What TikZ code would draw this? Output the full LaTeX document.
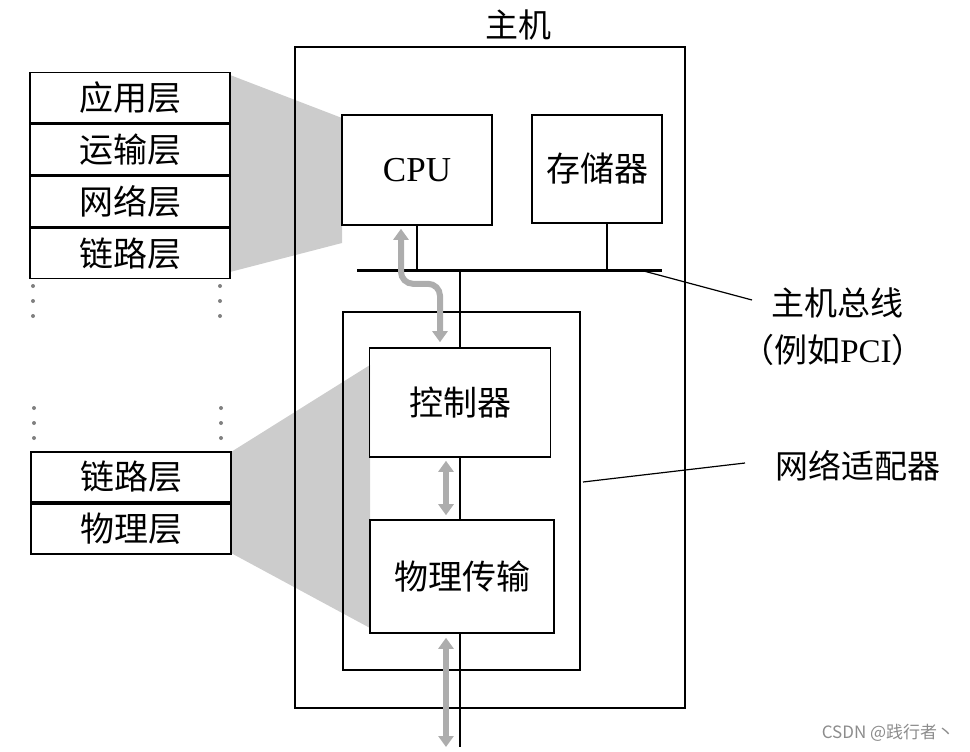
\documentclass[tikz,border=0pt]{standalone}
\usepackage{fontspec}
\setmainfont{Liberation Serif}
\newfontfamily\cjk{Noto Sans CJK SC}
\usetikzlibrary{arrows.meta,positioning}

\tikzset{
  box/.style={draw, line width=1.6pt, inner sep=0pt, font=\cjk\fontsize{34}{38}\selectfont},
  layer/.style={box, minimum width=200pt, minimum height=50.3pt},
  wire/.style={line width=2.2pt},
  dataflow/.style={line width=6pt, draw=black!32,
    {Triangle[width=15pt,length=11pt]}-{Triangle[width=15pt,length=11pt]}},
  shade/.style={fill=black!20},
  lbl/.style={inner sep=0pt, font=\cjk\fontsize{33}{38}\selectfont},
  dots/.style={line width=4pt, black!50, line cap=round, dash pattern=on 0pt off 15pt},
}

\begin{document}
\begin{tikzpicture}[x=1pt, y=-1pt]
  \useasboundingbox (0,0) rectangle (970,752);
  % shaded zoom wedges
  \fill[shade] (230,75) -- (342,118) -- (342,243) -- (230,272) -- cycle;
  \fill[shade] (231,452) -- (370,365) -- (370,628) -- (231,553) -- cycle;

  % protocol stack
  \node[layer] (app) at (130,97.5) {应用层};
  \node[layer, below=0pt of app] (trans) {运输层};
  \node[layer, below=0pt of trans] (net) {网络层};
  \node[layer, below=0pt of net] (link) {链路层};
  \node[layer] (link2) at (131,477) {链路层};
  \node[layer, below=0pt of link2] (phy) {物理层};
  \draw[dots] (33,286) -- (33,318);
  \draw[dots] (220,286) -- (220,318);
  \draw[dots] (34,408) -- (34,440);
  \draw[dots] (221,408) -- (221,440);

  % host
  \node[box, minimum width=390pt, minimum height=661pt] (host) at (490,377.5) {};
  \node[lbl] (hostlbl) at (518,25) {主机};
  \node[box, minimum width=150pt, minimum height=110pt, font=\fontsize{35}{40}\selectfont] (cpu) at (417,170) {CPU};
  \node[box, minimum width=130pt, minimum height=108pt] (mem) at (597,169) {存储器};

  % bus
  \coordinate (busL) at (357,270);
  \coordinate (busR) at (662,270);
  \draw[line width=3pt] (busL) -- (busR);
  \draw[wire] (cpu.south) -- (cpu.south |- busL);
  \draw[wire] ([xshift=10pt]mem.south) -- ([xshift=10pt]mem.south |- busL);

  % adapter
  \node[box, minimum width=237pt, minimum height=358pt] (adapter) at (461.5,491) {};
  \node[box, minimum width=181pt, minimum height=109pt] (ctrl) at (460,402.5) {控制器};
  \node[box, minimum width=184pt, minimum height=113pt] (phys) at (462,576.5) {物理传输};
  \coordinate (wireend) at (460,747);
  \draw[wire] (ctrl.north |- busL) -- (ctrl.north);
  \draw[wire] (ctrl.south) -- (phys.north -| ctrl.south);
  \draw[wire] (phys.south -| wireend) -- (wireend);

  % data paths
  \draw[dataflow, rounded corners=12pt, shorten <=3pt, shorten >=5pt]
    ([xshift=-16pt]cpu.south) -- ++(0,58) -| ([xshift=-20pt]ctrl.north);
  \draw[dataflow, shorten <=3pt, shorten >=4pt]
    ([xshift=-14pt]ctrl.south) -- ([xshift=-16pt]phys.north);
  \draw[dataflow, shorten <=4pt]
    ([xshift=-16pt]phys.south) -- ([xshift=-14pt]wireend);

  % labels
  \node[lbl] (buslbl) at (837,303) {主机总线};
  \node[lbl] (pcilbl) at (833,350) {（例如{\rmfamily PCI}）};
  \node[lbl] (adlbl) at (858,466) {网络适配器};
  \coordinate (buslead) at (640,270);
  \coordinate (busend) at (752,300);
  \coordinate (adlead) at (583,482);
  \coordinate (adend) at (745,463);
  \draw[line width=1.2pt] (buslead) -- (busend);
  \draw[line width=1.2pt] (adlead) -- (adend);

  \node[font=\cjk\fontsize{17}{20}\selectfont, text=black!45] (mark) at (888,733) {CSDN @践行者丶};
\end{tikzpicture}
\end{document}
